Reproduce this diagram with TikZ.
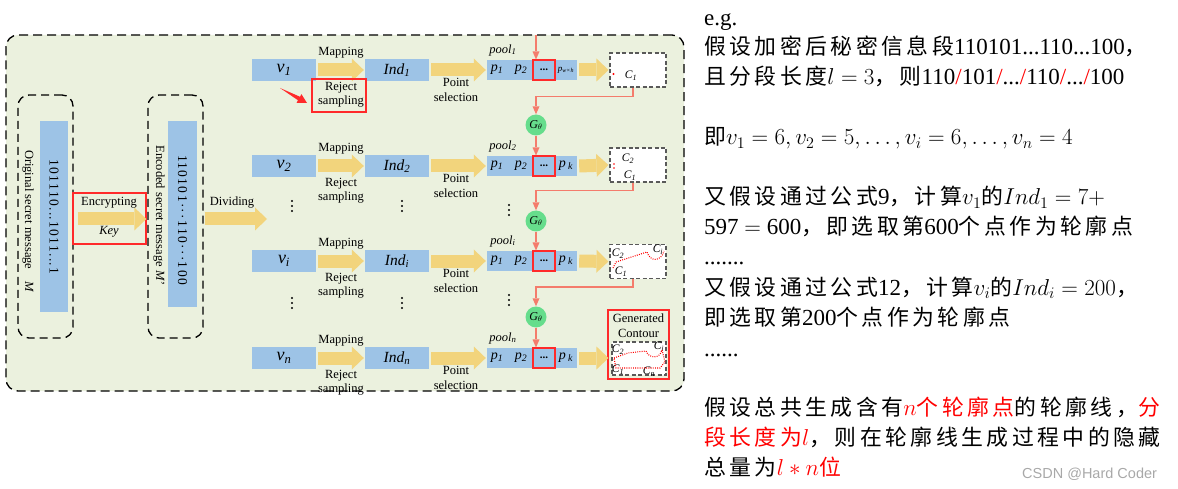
\RequirePackage{fix-cm}
\documentclass[tikz,border=0pt]{standalone}
\usepackage{fontspec}
\setmainfont{Liberation Serif}
\newfontfamily\cjk[Scale=0.95,LetterSpace=16]{Noto Sans CJK SC}
\newfontfamily\spaced[LetterSpace=10]{Liberation Serif}
\newfontfamily\wm{Liberation Sans}
\usetikzlibrary{arrows.meta,calc}
\definecolor{bgg}{HTML}{EBF1DE}
\definecolor{barb}{HTML}{9DC3E6}
\definecolor{ylw}{HTML}{F2D47C}
\definecolor{sal}{HTML}{F47C6C}
\definecolor{gth}{HTML}{66DD8C}
\definecolor{rbox}{HTML}{FF2A2A}
\definecolor{wmgray}{HTML}{A8A8A8}
\tikzset{
 lbl/.style={font=\fontsize{12.5}{14.5}\selectfont, align=center, inner sep=0pt},
 bluebar/.style={fill=barb, draw=none, inner sep=0pt, minimum width=64pt, minimum height=22pt},
 yarrow/.style={draw=ylw, line width=13pt, -{Triangle[width=23pt,length=12pt,line width=0pt]}},
 sarrow/.style={draw=sal, line width=1.3pt, -{Triangle[width=7pt,length=8pt,line width=0pt]}},
 dbox/.style={draw=black, dash pattern=on 8pt off 5pt, line width=1.3pt, rounded corners=11pt, inner sep=0pt},
 cbox/.style={draw=black!65, fill=white, dash pattern=on 4pt off 2.5pt, line width=1.1pt, inner sep=0pt, minimum width=56pt, minimum height=34pt},
 redbox/.style={draw=rbox, line width=1.1pt, inner sep=0pt},
 gcirc/.style={circle, fill=gth, draw=none, minimum size=21pt, inner sep=0pt, font=\fontsize{12}{12}\selectfont},
 clbl/.style={inner sep=0pt, font=\fontsize{11.5}{11.5}\selectfont\itshape},
 inbar/.style={inner sep=0pt, font=\fontsize{14}{14}\selectfont},
 txt/.style={anchor=base west, inner sep=0pt, font=\fontsize{23}{26}\selectfont},
 reddot/.style={red, line width=1.1pt, dash pattern=on 0.9pt off 1.3pt}
}
\begin{document}
\begin{tikzpicture}[x=1pt,y=-1pt]
\useasboundingbox (0,0) rectangle (1178,489);
% outer frame
\node[draw=black, fill=bgg, dash pattern=on 9pt off 5pt, line width=1.3pt, rounded corners=12pt,
      minimum width=678pt, minimum height=356pt, inner sep=0pt] (frame) at (345,213) {};
% left part
\node[dbox, minimum width=55pt, minimum height=243pt] (orig) at (45.5,216.5) {};
\node[fill=barb, minimum width=28pt, minimum height=191pt, inner sep=0pt] (bar1) at (54,216.5) {};
\node[rotate=-90, inner sep=0pt, font=\spaced\fontsize{13.5}{14}\selectfont] (bits1) at (54,217) {101110...1011...1};
\node[rotate=-90, lbl] (origlbl) at (28,221.5) {Original secret message\quad\textit{M}};
\node[dbox, minimum width=55pt, minimum height=243pt] (enc) at (175.5,216.5) {};
\node[fill=barb, minimum width=29pt, minimum height=186pt, inner sep=0pt] (bar2) at (182.5,214) {};
\node[rotate=-90, inner sep=0pt, font=\spaced\fontsize{13.5}{14}\selectfont] (bits2) at (182.5,220) {110101···110···100};
\node[rotate=-90, lbl] (enclbl) at (159,215) {Encoded secret message \textit{M'}};
\node[redbox, minimum width=73pt, minimum height=51pt] (encbox) at (109.5,218.5) {};
\draw[yarrow] ($(orig.east)+(4,2.5)$) -- ($(enc.west)+(-1,2.5)$);
\node[lbl] (enctxt) at (109,203) {Encrypting};
\node[lbl] (key) at (109,232) {\textit{Key}};
\coordinate (divend) at (267,219);
\draw[yarrow] ($(enc.east)+(1,2.5)$) -- (divend);
\node[lbl] (divtxt) at (232,203) {Dividing};
% rows
\foreach \r/\y/\s in {1/70/1,2/166/2,3/261/i,4/358/n}{
  \node[bluebar] (v\r) at (284,\y) {\fontsize{18}{18}\selectfont\textit{v}\textsubscript{\textit{\s}}};
  \node[bluebar] (ind\r) at (397,\y) {\fontsize{15.5}{16}\selectfont\textit{Ind}\textsubscript{\textit{\s}}};
  \node[bluebar, minimum width=90pt, minimum height=20pt] (pool\r) at (532,\y) {};
  \node[redbox, minimum width=22pt, minimum height=20pt, font=\fontsize{11}{11}\selectfont\bfseries] (dots\r) at (544,\y) {...};
  \node[inbar] (pa\r) at (497,\y) {\textit{p}\textsubscript{\textit{1}}};
  \node[inbar] (pb\r) at (521,\y) {\textit{p}\textsubscript{\textit{2}}};
  \ifnum\r=1
    \node[inbar, font=\fontsize{9}{9}\selectfont] (pk\r) at (566,\y) {\textit{p}\textsubscript{\textit{w×h}}};
  \else
    \node[inbar] (pk\r) at (566,\y) {\textit{p}\,\textsubscript{\textit{k}}};
  \fi
  \node[lbl] (pl\r) at (503,\y-20) {\textit{pool}\textsubscript{\textit{\s}}};
  \node[lbl] (mp\r) at (341,\y-17) {Mapping};
  \node[lbl] (rs\r) at (341,\y+24.5) {Reject\\sampling};
  \node[lbl] (ps\r) at (456,\y+20) {Point\\selection};
  \draw[yarrow] ($(v\r.east)+(2,0)$) -- ($(ind\r.west)+(-1,0)$);
  \draw[yarrow] ($(ind\r.east)+(2,0)$) -- ($(pool\r.west)+(-1,0)$);
}
% reject sampling highlight and pointer
\node[redbox, minimum width=54pt, minimum height=33pt] (rsbox) at (339,95.5) {};
\fill[rbox] (280,88) -- (300.0,96.75) -- (301.4,94.1) -- (307,103) -- (296.6,102.9) -- (298.0,100.25) -- cycle;
% vertical dots (ellipses between rows)
\foreach \px/\py in {292/206, 402/206, 292/303, 402/303, 509/210, 509/300}{
  \fill[black] (\px,\py-5) circle (1.2) (\px,\py) circle (1.2) (\px,\py+5) circle (1.2);
}
% contour boxes
\node[cbox] (cb1) at (638,70) {};
\node[cbox] (cb2) at (638,165) {};
\node[cbox] (cb3) at (638,261.5) {};
\node[redbox, minimum width=61pt, minimum height=69pt] (gen) at (638.5,344.5) {};
\node[lbl] (gentxt) at (638.5,325.5) {Generated\\Contour};
\node[cbox, minimum width=54pt, minimum height=33pt] (cb4) at (639,358.5) {};
\foreach \r in {1,2,3}{
  \draw[yarrow] ($(pool\r.east)+(2,0)$) -- ($(cb\r.west)+(-1,0)$);
}
\draw[yarrow] ($(pool4.east)+(2,0)$) -- ($(gen.west)+(1,13.5)$);
% contour contents
\fill[red] (613.5,74) circle (1.1);
\node[clbl] (c11) at (631,76) {C\textsubscript{1}};
\node[clbl] (c22) at (628,159) {C\textsubscript{2}};
\node[clbl] (c21) at (630,176) {C\textsubscript{1}};
\fill[red] (614,164) circle (0.9) (614,168) circle (0.9);
\node[clbl] (c32) at (618,254) {C\textsubscript{2}};
\node[clbl] (c31) at (621,272) {C\textsubscript{1}};
\node[clbl] (c3i) at (658,250) {C\textsubscript{i}};
\draw[reddot] (613,268) -- (616,262) -- (647,252) .. controls (650,262) and (661,262) .. (664,251);
\node[clbl] (c42) at (618,350) {C\textsubscript{2}};
\node[clbl] (c4i) at (659,347) {C\textsubscript{i}};
\node[clbl] (c41) at (618,370) {C\textsubscript{1}};
\node[clbl] (c4n) at (649,372) {C\textsubscript{n}};
\draw[reddot] (614,358) -- (628,353) -- (646,351) .. controls (649,359) and (660,359) .. (662,350) -- (665,362) -- (660,368) -- (616,368) -- cycle;
% G circles and salmon connectors
\node[gcirc] (g2) at (536,125) {\textit{G}$_\theta$};
\node[gcirc] (g3) at (536,221) {\textit{G}$_\theta$};
\node[gcirc] (g4) at (536,317) {\textit{G}$_\theta$};
\coordinate (topin) at (536,35);
\draw[sarrow] (topin) -- (topin |- dots1.north);
\draw[sarrow] ($(cb1.south)+(-5,0)$) -- ++(0,9) -| (g2.north);
\draw[sarrow] (g2.south) -- (g2.south |- dots2.north);
\draw[sarrow] ($(cb2.south)+(-5,0)$) -- ++(0,8) -| (g3.north);
\draw[sarrow] (g3.south) -- (g3.south |- dots3.north);
\draw[sarrow] ($(cb3.south)+(-5,0)$) -- ++(0,8) -| (g4.north);
\draw[sarrow] (g4.south) -- (g4.south |- dots4.north);
% right text
\node[txt] (t1) at (704,26) {e.g.};
\node[txt] (t2) at (704,55) {{\cjk 假设加密后秘密信息段}110101...110...100{\cjk ，}};
\node[txt] (t3) at (704,85) {{\cjk 且分段长度}$l = 3${\cjk ，则}110\textcolor{red}{/}101\textcolor{red}{/}...\textcolor{red}{/}110\textcolor{red}{/}...\textcolor{red}{/}100};
\node[txt] (t4) at (704,145) {{\cjk 即}$v_1 = 6, v_2 = 5, \ldots, v_i = 6, \ldots, v_n = 4$};
\node[txt] (t5) at (704,205) {{\cjk 又假设通过公式}9{\cjk ，计算}$v_1${\cjk 的}$Ind_1 = 7 +$};
\node[txt] (t6) at (704,235) {597 $=$ 600{\cjk ，即选取第}600{\cjk 个点作为轮廓点}};
\node[txt] (t7) at (704,265) {.......};
\node[txt] (t8) at (704,295) {{\cjk 又假设通过公式}12{\cjk ，计算}$v_i${\cjk 的}$Ind_i = 200${\cjk ，}};
\node[txt] (t9) at (704,325) {{\cjk 即选取第}200{\cjk 个点作为轮廓点}};
\node[txt] (t10) at (704,356) {......};
\node[txt] (t11) at (704,415) {{\cjk 假设总共生成含有}\textcolor{red}{$n${\cjk 个轮廓点}}{\cjk 的轮廓线，}\textcolor{red}{\cjk 分}};
\node[txt] (t12) at (704,445) {\textcolor{red}{{\cjk 段长度为}$l$}{\cjk ，则在轮廓线生成过程中的隐藏}};
\node[txt] (t13) at (704,475) {{\cjk 总量为}\textcolor{red}{$l*n${\cjk 位}}};
\node[anchor=base west, inner sep=0pt, text=wmgray, font=\wm\fontsize{14.5}{15}\selectfont] (wmk) at (1022,478) {CSDN @Hard Coder};
\end{tikzpicture}
\end{document}
